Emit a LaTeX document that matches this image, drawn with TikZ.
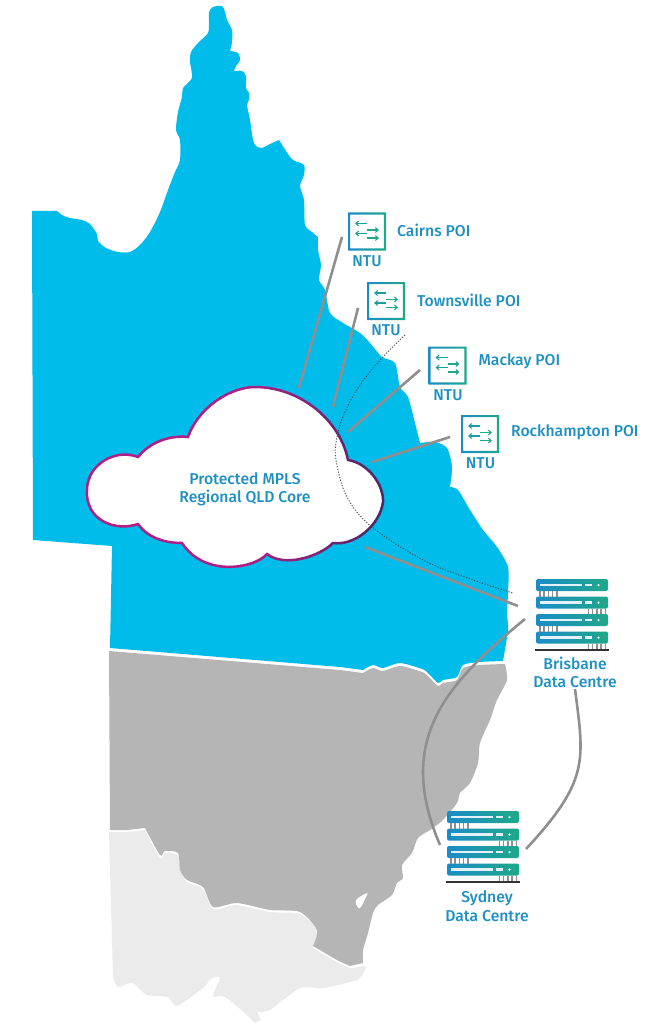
\documentclass[tikz,border=0pt]{standalone}
\usepackage{fontspec}
\setmainfont{Fira Sans}[BoldFont={Fira Sans Medium}]
\usetikzlibrary{arrows.meta}
\definecolor{qld}{HTML}{00BCEB}
\definecolor{nsw}{HTML}{B5B5B5}
\definecolor{vic}{HTML}{EBEBEB}
\definecolor{linkgray}{HTML}{8F8F8F}
\definecolor{txt}{HTML}{1E90C4}
\definecolor{cloudL}{HTML}{B01F85}
\definecolor{cloudR}{HTML}{3B2A5E}
\definecolor{gradL}{HTML}{1B8CC6}
\definecolor{gradM}{HTML}{1E9DA6}
\definecolor{gradR}{HTML}{1FA889}
\tikzset{
  lbl/.style={text=txt,font=\fontsize{15.7}{18.5}\selectfont\bfseries,inner sep=0pt},
  link/.style={draw=linkgray,line width=2.6pt},
  dots/.style={draw=black!70,line width=0.9pt,dash pattern=on 1.2pt off 1.6pt},
  iconarrow/.style={draw=#1,line width=1.1pt,-{Straight Barb[length=2.8pt,width=4.8pt]}},
}
\newcommand{\ntubox}[3]{% name, x, y (top-left)
  \node[minimum size=38pt,inner sep=0pt] (#1) at (#2+19,#3+19) {};
  \shade[left color=gradL,right color=gradR,even odd rule]
    (#2,#3) rectangle (#2+38,#3+38) (#2+2.2,#3+2.2) rectangle (#2+35.8,#3+35.8);
  \draw[iconarrow=gradR!60!gradL] (#2+19,#3+11) -- (#2+7,#3+11);
  \draw[iconarrow=gradR] (#2+19,#3+17.5) -- (#2+31,#3+17.5);
  \draw[iconarrow=gradR!60!gradL] (#2+19,#3+21) -- (#2+7,#3+21);
  \draw[iconarrow=gradR] (#2+19,#3+25.5) -- (#2+31,#3+25.5);
}
\newcommand{\rack}[3]{% name, x, y (top-left)
  \node[minimum width=72pt,minimum height=71pt,inner sep=0pt] (#1) at (#2+36,#3+35.5) {};
  \foreach \r in {0,17.5,35,52.5}{
    \shade[left color=gradL,middle color=gradM,right color=gradR,rounded corners=2pt] (#2,#3+\r) rectangle (#2+72,#3+\r+12);
    \fill[white!88!gradL] (#2+3.5,#3+\r+4.9) rectangle (#2+46,#3+\r+7.3);
    \fill[white!88!gradL] (#2+48.5,#3+\r+4.9) rectangle (#2+56,#3+\r+7.3);
    \fill[white] (#2+62.5,#3+\r+6.1) circle (1.2pt);
  }
  \foreach \r in {12,47}{\foreach \k in {4,8.2,12.4,16.6,20.8}{
    \draw[linkgray,line width=1.5pt] (#2+\k,#3+\r) -- (#2+\k,#3+\r+5.5);}}
  \foreach \r in {29.5,64.5}{\foreach \k in {52.5,56.7,60.9,65.1,69.3}{
    \draw[linkgray,line width=1.5pt] (#2+\k,#3+\r) -- (#2+\k,#3+\r+5.5);}}
  \draw[black!80,line width=2pt] (#2-1,#3+71) -- (#2+73,#3+71);
}
\begin{document}
\begin{tikzpicture}[x=1pt,y=-1pt]
\useasboundingbox (0,0) rectangle (648,1024);
% Victoria
\fill[vic] (109,832) -- (127,832) -- (145,830)
 -- plot[smooth,tension=.45] coordinates {(145,830) (160,858) (165,853) (178,855) (180,870) (187,882) (203,889) (213,909) (237,905) (270,912) (300,914) (317,930) (313,948)}
 -- plot[smooth,tension=.45] coordinates {(313,948) (337,962) (350,968) (365,966) (365,970) (357,980) (323,988) (300,988) (270,1010) (257,1012)}
 -- (261,1020) -- (255,1023) -- (247,1015)
 -- plot[smooth,tension=.45] coordinates {(247,1015) (225,997) (213,996) (220,978) (212,978) (203,988) (177,1006) (168,997) (147,995) (132,983) (118,987) (113,977)}
 -- cycle;
% NSW
\fill[nsw] (109,651) -- (340,670) -- (363,673)
 -- plot[smooth,tension=.45] coordinates {(363,673) (373,668) (383,671) (400,666) (422,672) (428,676) (438,686) (443,683) (457,680) (463,668) (480,665) (505,664)}
 -- plot[smooth,tension=.45] coordinates {(505,664) (507,680) (497,700) (490,720) (480,743) (478,763) (470,783) (460,793) (457,803) (443,820) (430,830) (418,838) (412,853) (402,865) (403,878) (397,883) (392,895) (378,905) (373,913) (368,933) (363,950) (363,963)}
 -- (350,966)
 -- plot[smooth,tension=.45] coordinates {(350,966) (337,960) (313,946)}
 -- plot[smooth,tension=.45] coordinates {(313,946) (317,930) (300,912) (270,910) (237,903) (213,907) (203,887) (187,880) (180,870) (178,853) (165,851) (160,855) (145,828)}
 -- (127,830) -- (110,830) -- cycle;
\fill[white] plot[smooth cycle,tension=.6] coordinates {(357,899) (367,893) (366,897) (360,908) (356,904)};
% Queensland
\fill[qld] (32,211) -- (57,211)
 -- plot[smooth,tension=.45] coordinates {(57,211) (62,215) (70,218) (82,220) (90,224) (97,234) (98,241) (106,248) (118,252) (130,252) (140,245) (150,232) (160,212) (168,190) (175,172) (180,160) (180,140) (176,130) (178,112) (182,97) (183,88) (192,78) (190,62) (191,52) (198,43) (208,33) (209,22) (209,12) (213,7) (222,6) (225,12) (227,20) (232,30) (232,42) (230,51)}
 -- plot[smooth,tension=.45] coordinates {(230,51) (238,53) (240,60) (236,66) (234,71)}
 -- plot[smooth,tension=.45] coordinates {(234,71) (242,71) (246,76) (246,88) (249,93) (249,100) (247,105) (250,120) (253,140) (256,146) (262,148) (270,144) (279,140)}
 -- plot[smooth,tension=.45] coordinates {(279,140) (290,157) (295,161) (304,165) (304,175) (300,186) (304,200) (305,225) (312,232) (318,237)}
 -- plot[smooth,tension=.45] coordinates {(318,237) (318,250) (321,265) (319,280) (325,290) (330,313) (343,323) (360,333) (370,343) (382,357) (395,363) (400,387) (408,397) (415,423) (420,443)}
 -- plot[smooth,tension=.45] coordinates {(420,443) (435,442) (447,448) (452,467) (450,487)}
 -- plot[smooth,tension=.45] coordinates {(450,487) (458,490) (470,510) (483,530) (497,547) (508,567) (508,593) (507,613) (508,630) (503,661)}
 -- plot[smooth,tension=.45] coordinates {(503,661) (480,662) (463,665) (457,677) (443,680) (438,683) (428,673) (422,669) (400,663) (383,668) (373,665) (363,670)}
 -- (340,667) -- (110,648) -- (112,546) -- (33,540) -- cycle;
% connector ends
\coordinate (cairnsA) at (342,237); \coordinate (cairnsB) at (299,388);
\coordinate (townA) at (358,308); \coordinate (townB) at (333,407);
\coordinate (mackA) at (420,370); \coordinate (mackB) at (348,432);
\coordinate (rockA) at (450,437); \coordinate (rockB) at (372,462);
\coordinate (brisA) at (518,606); \coordinate (brisB) at (365,547);
\coordinate (curveA) at (525,619); \coordinate (curveB) at (440,845);
\coordinate (rightA) at (575,689); \coordinate (rightB) at (526,849);
\coordinate (dotA) at (405,335); \coordinate (dotB) at (513,593);
\draw[link] (cairnsA) -- (cairnsB);
\draw[link] (townA) -- (townB);
\draw[link] (mackA) -- (mackB);
\draw[link] (rockA) -- (rockB);
\draw[link] (brisA) -- (brisB);
\draw[link] (curveA) .. controls (445,685) and (395,740) .. (curveB);
\draw[link] (rightA) .. controls (584,760) and (590,780) .. (rightB);
% cloud
\def\cloudpath{(188,437) .. controls (198,408) and (230,387) .. (255,387) .. controls (300,387) and (340,420) .. (348,460)
 .. controls (368,463) and (384,485) .. (383,502) .. controls (380,525) and (355,546) .. (333,543)
 .. controls (320,556) and (285,568) .. (267,554) .. controls (255,568) and (205,578) .. (182,543)
 .. controls (165,543) and (148,538) .. (138,524) .. controls (115,532) and (85,520) .. (87,490)
 .. controls (87,465) and (115,448) .. (138,457) .. controls (150,442) and (170,435) .. (188,437) -- cycle}
\fill[white] \cloudpath;
\foreach \i in {0,...,31}{
  \pgfmathsetmacro{\mixv}{min(100,max(0,(\i*10-160)/1.6))}
  \begin{scope}
    \clip (80+\i*10,370) rectangle (90.6+\i*10,590);
    \draw[draw=cloudR!\mixv!cloudL,line width=2.5pt] \cloudpath;
  \end{scope}
}
\draw[dots] plot[smooth,tension=.6] coordinates {(dotA) (382,358) (360,385) (345,412) (337,437) (336,460) (347,497) (372,527) (423,560) (473,580) (dotB)};
\node[lbl,align=center] (core) at (245,489.5) {Protected MPLS\\Regional QLD Core};
% NTU
\ntubox{cairnsbox}{348}{212.5}
\ntubox{townbox}{367}{282}
\ntubox{mackbox}{428.5}{346.5}
\ntubox{rockbox}{461}{415}
\node[lbl] (ntuA) at (367,261) {NTU};
\node[lbl] (ntuB) at (386,330) {NTU};
\node[lbl] (ntuC) at (448,395) {NTU};
\node[lbl] (ntuD) at (480.5,463) {NTU};
\node[lbl,anchor=west] (poiA) at (397,230) {Cairns POI};
\node[lbl,anchor=west] (poiB) at (417,300) {Townsville POI};
\node[lbl,anchor=west] (poiC) at (478.5,361) {Mackay POI};
\node[lbl,anchor=west] (poiD) at (511,432) {Rockhampton POI};
% data centres
\rack{brisrack}{536}{579}
\rack{sydrack}{447}{811}
\node[lbl,align=center] (brislabel) at (575,672.5) {Brisbane\\Data Centre};
\node[lbl,align=center] (sydlabel) at (487,906) {Sydney\\Data Centre};
\end{tikzpicture}
\end{document}
